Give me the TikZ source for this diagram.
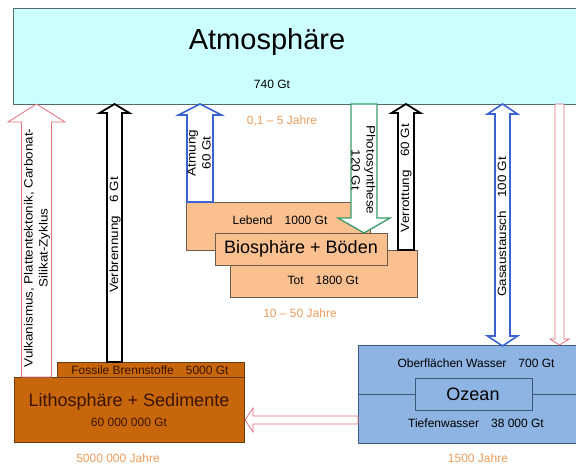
\documentclass[tikz,border=0pt]{standalone}
\usepackage{fontspec}
\setmainfont{Liberation Sans}
\definecolor{atmfill}{HTML}{CCFFFF}
\definecolor{atmline}{HTML}{4F6B6B}
\definecolor{peach}{HTML}{FAC090}
\definecolor{peachline}{HTML}{6E5A48}
\definecolor{litho}{HTML}{C8660C}
\definecolor{litholine}{HTML}{6A3A12}
\definecolor{lithotext}{HTML}{3A1400}
\definecolor{ocean}{HTML}{8DB4E2}
\definecolor{oceanline}{HTML}{3C5A78}
\definecolor{yrs}{HTML}{EE9E5E}
\definecolor{pinkarr}{HTML}{E0707A}
\definecolor{bluearr}{HTML}{3A62D0}
\definecolor{greenarr}{HTML}{3A9A6A}
\newcommand\fatup[7]{%
  \draw[#7] (#1,#2) -- ({#1+#5},{#2+#6}) -- ({#1+#4},{#2+#6}) -- ({#1+#4},#3)
    -- ({#1-#4},#3) -- ({#1-#4},{#2+#6}) -- ({#1-#5},{#2+#6}) -- cycle;}
\newcommand\fatdown[7]{%
  \draw[#7] (#1,#3) -- ({#1+#5},{#3-#6}) -- ({#1+#4},{#3-#6}) -- ({#1+#4},#2)
    -- ({#1-#4},#2) -- ({#1-#4},{#3-#6}) -- ({#1-#5},{#3-#6}) -- cycle;}
\newcommand\fatboth[7]{%
  \draw[#7] (#1,#2) -- ({#1+#5},{#2+#6}) -- ({#1+#4},{#2+#6}) -- ({#1+#4},{#3-#6})
    -- ({#1+#5},{#3-#6}) -- (#1,#3) -- ({#1-#5},{#3-#6}) -- ({#1-#4},{#3-#6})
    -- ({#1-#4},{#2+#6}) -- ({#1-#5},{#2+#6}) -- cycle;}
\newcommand\stretchtxt[1]{\scalebox{1.12}[1]{\begin{tabular}{@{}c@{}}#1\end{tabular}}}
\tikzset{
  box/.style={draw=peachline, fill=peach, line width=0.9pt},
  small/.style={font=\fontsize{12}{13}\selectfont},
  vtext/.style={font=\fontsize{12}{15}\selectfont, inner sep=0pt},
  big/.style={font=\fontsize{18}{20}\selectfont},
  years/.style={font=\fontsize{12}{13}\selectfont, text=yrs},
  blk/.style={draw=black, fill=white, line width=1.8pt, line join=miter},
  blu/.style={draw=bluearr, fill=white, line width=1.6pt, line join=miter},
  grn/.style={draw=greenarr, fill=white, line width=1.3pt, line join=miter},
  pnk/.style={draw=pinkarr, fill=white, line width=0.8pt, line join=miter},
}
\begin{document}
\begin{tikzpicture}[x=1pt,y=-1pt]
\clip (0,0) rectangle (576,466);
\fill[white] (0,0) rectangle (576,466);
% Atmosphere
\draw[draw=atmline, fill=atmfill, line width=1pt] (13,8) rectangle (600,104);
\node[font=\fontsize{29}{31}\selectfont] (atm) at (267,42) {Atmosphäre};
\node[small] (atmv) at (272,84) {740 Gt};
\node[years] (y1) at (282,121) {0,1 -- 5 Jahre};
% biosphere boxes
\draw[box] (186,202) rectangle (370,250);
\node[small] (leb) at (280,220) {Lebend\quad 1000 Gt};
\draw[box] (230,250) rectangle (417,297);
\node[small] (tot) at (323,280) {Tot\quad 1800 Gt};
\draw[box] (215,233) rectangle (387,265);
\node[big] (bio) at (301,249) {Biosphäre + Böden};
\node[years] (y2) at (300,313) {10 -- 50 Jahre};
% Lithosphere
\draw[draw=litholine, fill=litho, line width=0.9pt] (57,362) rectangle (244,377);
\node[font=\fontsize{12}{13}\selectfont, text=lithotext] (fos) at (150,370) {Fossile Brennstoffe\quad 5000 Gt};
\draw[draw=litholine, fill=litho, line width=0.9pt] (14,377) rectangle (244,442);
\node[big, text=lithotext] (lith) at (129,402) {Lithosphäre + Sedimente};
\node[small, text=lithotext] (lithv) at (129,422) {60 000 000 Gt};
\node[years] (y3) at (118,458) {5000 000 Jahre};
% Ocean
\draw[draw=oceanline, fill=ocean, line width=1pt] (358,345) rectangle (600,443);
\draw[draw=oceanline, line width=1pt] (358,394) -- (600,394);
\draw[draw=oceanline, fill=ocean, line width=1pt] (415,378) rectangle (532,410);
\node[big] (oz) at (473,394) {Ozean};
\node[small] (ow) at (476,363) {Oberflächen Wasser\quad 700 Gt};
\node[small] (tw) at (476,423) {Tiefenwasser\quad 38 000 Gt};
\node[years] (y4) at (478,458) {1500 Jahre};
% arrows
\fatup{36.5}{104}{377}{15}{28.5}{18}{pnk}
\node[vtext, rotate=90] (vulk) at (37,248) {\stretchtxt{Vulkanismus, Plattentektonik, Carbonat-\\Silikat-Zyklus}};
\fatup{114.5}{104}{362}{7.5}{15}{9}{blk}
\node[vtext, rotate=90] (verb) at (115,235) {\stretchtxt{Verbrennung\quad 6 Gt}};
\fatup{200}{104}{202}{13}{21.5}{11}{blu}
\node[vtext, rotate=90] (atmg) at (200,153) {\stretchtxt{Atmung\\60 Gt}};
\fatdown{364}{104}{233}{13}{26}{15}{grn}
\node[vtext, rotate=-90] (phot) at (362,170) {\stretchtxt{Photosynthese\\120 Gt}};
\fatup{406}{104}{250}{8}{14.5}{9}{blk}
\node[vtext, rotate=90] (verr) at (406,178) {\stretchtxt{Verrottung\quad 60 Gt}};
\fatboth{502.5}{104}{346}{7.5}{15}{10}{blu}
\node[vtext, rotate=90] (gas) at (503,227) {\stretchtxt{Gasaustausch\quad 100 Gt}};
\fatdown{559.5}{104}{345}{4.5}{9.5}{6}{pnk}
\draw[pnk] (245,420) -- (253,408) -- (253,416) -- (358,416) -- (358,424) -- (253,424) -- (253,432) -- cycle;
\end{tikzpicture}
\end{document}
